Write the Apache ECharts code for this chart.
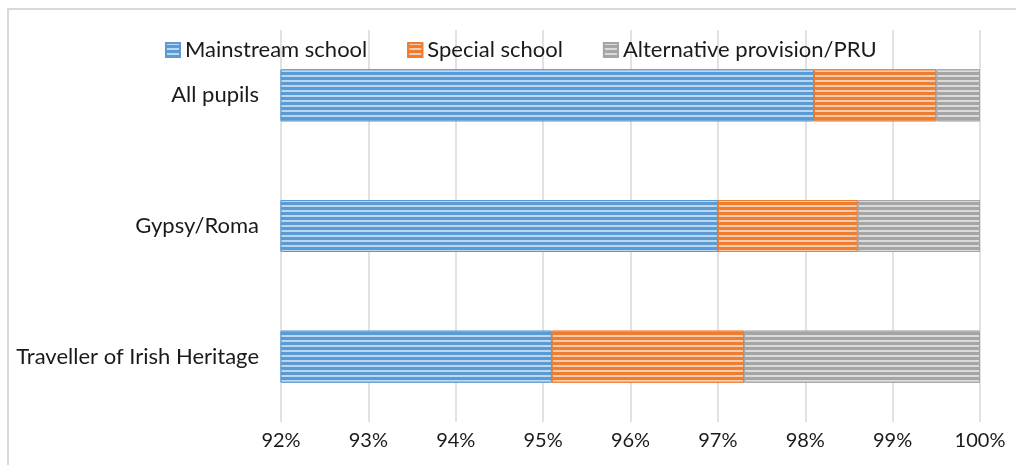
<!DOCTYPE html>
<html>
<head>
<meta charset="utf-8">
<script src="https://cdn.jsdelivr.net/npm/echarts@6/dist/echarts.min.js"></script>
<style>html,body{margin:0;padding:0;background:#fff;}#c{width:1016px;height:465px;}</style>
</head>
<body>
<div id="c"></div>
<script>
const categories = ['All pupils', 'Gypsy/Roma', 'Traveller of Irish Heritage'];
const mainstream = [98.1, 97.0, 95.1];
const special = [1.4, 1.6, 2.2];
const alternative = [0.5, 1.4, 2.7];
const seriesNames = ['Mainstream school', 'Special school', 'Alternative provision/PRU'];
const colors = ['#5b9bd5', '#ed7d31', '#a5a5a5'];

function decal() {
  return { symbol: 'rect', symbolSize: 1, dashArrayX: [1, 0], dashArrayY: [1.4, 2.3], rotation: 0, color: 'rgba(255,255,255,0.6)' };
}
function mk(name, data, color) {
  return {
    name: name, type: 'bar', stack: 'total', data: data, barWidth: 52,
    itemStyle: { color: color, borderColor: color, borderWidth: 1, decal: decal() },
    emphasis: { disabled: true }
  };
}
const chart = echarts.init(document.getElementById('c'), null, { renderer: 'canvas' });
chart.setOption({
  animation: false,
  aria: { enabled: true, decal: { show: true } },
  textStyle: { fontFamily: 'Lato, "Open Sans", sans-serif' },
  graphic: [{ type: 'rect', shape: { x: 8, y: 9, width: 1030, height: 480 }, style: { fill: 'none', stroke: '#d9d9d9', lineWidth: 2 }, silent: true, z: -10 }],
  legend: {
    top: 34, left: 160, itemWidth: 14, itemHeight: 14, itemGap: 40,
    icon: 'rect',
    textStyle: { fontSize: 22, color: '#1a1a1a', fontFamily: 'Lato, sans-serif' },
    data: seriesNames
  },
  grid: { left: 281, right: 36, top: 30, bottom: 43, containLabel: false },
  xAxis: {
    type: 'value', min: 92, max: 100, interval: 1,
    axisLine: { show: false }, axisTick: { show: false },
    splitLine: { show: true, lineStyle: { color: '#d9d9d9', width: 1.5 } },
    axisLabel: { formatter: '{value}%', fontSize: 20, color: '#1a1a1a', margin: 9 }
  },
  yAxis: {
    type: 'category', data: categories, inverse: true,
    axisLine: { show: false }, axisTick: { show: false },
    axisLabel: { fontSize: 22, color: '#1a1a1a', margin: 22 }
  },
  series: [
    mk(seriesNames[0], mainstream, colors[0]),
    mk(seriesNames[1], special, colors[1]),
    mk(seriesNames[2], alternative, colors[2])
  ]
});
</script>
</body>
</html>
